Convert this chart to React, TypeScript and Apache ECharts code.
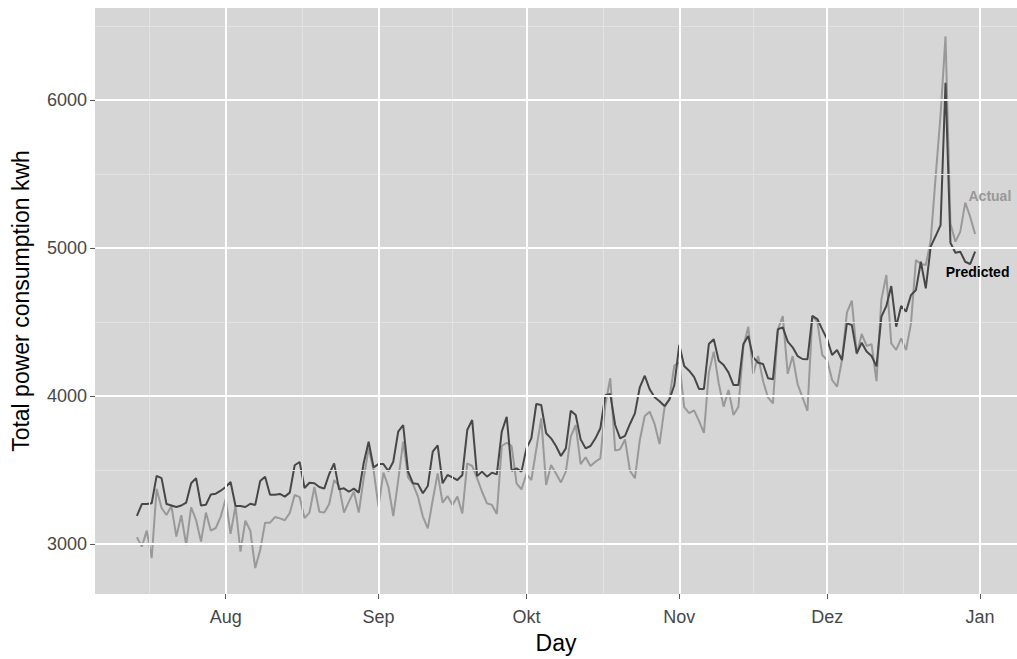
import React, { useEffect, useRef } from "react";
import * as echarts from "echarts";

// Daily series start (one value per day)
const START_YEAR = 2015;
const START_MONTH = 6; // July (0-based)
const START_DAY = 14;

const actual = [
  3045, 2982, 3090, 2905, 3372, 3243, 3196, 3257, 3050, 3194,
  2993, 3248, 3162, 3016, 3212, 3090, 3108, 3185, 3304, 3068,
  3257, 2948, 3157, 3090, 2837, 2959, 3144, 3144, 3182, 3173,
  3160, 3209, 3331, 3317, 3175, 3212, 3385, 3218, 3212, 3270,
  3432, 3392, 3212, 3286, 3353, 3212, 3444, 3646, 3500, 3252,
  3482, 3387, 3189, 3432, 3691, 3450, 3405, 3320, 3185, 3106,
  3297, 3477, 3279, 3324, 3264, 3320, 3207, 3545, 3527, 3444,
  3353, 3275, 3264, 3203, 3662, 3684, 3662, 3410, 3369, 3473,
  3432, 3640, 3849, 3399, 3534, 3477, 3416, 3489, 3725, 3804,
  3540, 3586, 3527, 3556, 3579, 3939, 4120, 3631, 3640, 3707,
  3495, 3444, 3703, 3865, 3894, 3811, 3675, 3920, 3984, 4206,
  4228, 3925, 3885, 3903, 3832, 3750, 4158, 4300, 4086, 3928,
  4041, 3872, 3928, 4333, 4468, 4150, 4270, 4100, 3990, 3950,
  4450, 4540, 4150, 4270, 4080, 3990, 3900, 4540, 4502, 4277,
  4243, 4108, 4063, 4243, 4564, 4644, 4282, 4419, 4338, 4351,
  4100, 4653, 4818, 4356, 4311, 4390, 4311, 4491, 4919, 4892,
  4885, 5050, 5482, 5900, 6430, 5166, 5043, 5111, 5307, 5212,
  5095,
];

const predicted = [
  3190, 3270, 3270, 3275, 3460, 3445, 3270, 3260, 3250, 3260,
  3280, 3410, 3445, 3260, 3265, 3335, 3340, 3360, 3385, 3419,
  3257, 3257, 3250, 3272, 3264, 3425, 3455, 3333, 3333, 3338,
  3320, 3347, 3532, 3554, 3378, 3414, 3410, 3385, 3374, 3473,
  3545, 3369, 3376, 3353, 3374, 3347, 3547, 3691, 3518, 3540,
  3540, 3493, 3556, 3759, 3804, 3489, 3410, 3405, 3343, 3392,
  3624, 3667, 3410, 3466, 3450, 3432, 3466, 3770, 3838, 3459,
  3489, 3455, 3482, 3470, 3759, 3860, 3495, 3511, 3489, 3646,
  3714, 3946, 3939, 3748, 3714, 3662, 3595, 3646, 3901, 3872,
  3707, 3646, 3662, 3714, 3782, 4005, 4014, 3804, 3714, 3730,
  3811, 3883, 4059, 4137, 4045, 3991, 3965, 3932, 3975, 4074,
  4345, 4203, 4171, 4130, 4048, 4048, 4351, 4383, 4239, 4209,
  4158, 4074, 4074, 4351, 4405, 4261, 4225, 4216, 4120, 4113,
  4451, 4464, 4367, 4329, 4270, 4250, 4248, 4541, 4520, 4450,
  4383, 4277, 4311, 4243, 4491, 4480, 4288, 4360, 4300, 4270,
  4200, 4536, 4608, 4743, 4468, 4608, 4570, 4682, 4716, 4907,
  4727, 5009, 5081, 5155, 6117, 5036, 4968, 4975, 4907, 4892,
  4975,
];

const monthNames = ["Jan", "Feb", "Mär", "Apr", "Mai", "Jun", "Jul", "Aug", "Sep", "Okt", "Nov", "Dez"];
const xTickDates = [
  [2015, 7, 1], [2015, 8, 1], [2015, 9, 1], [2015, 10, 1], [2015, 11, 1], [2016, 0, 1],
];
const xMinorDates = [
  [2015, 6, 16, 12], [2015, 7, 16, 12], [2015, 8, 16, 0], [2015, 9, 16, 12], [2015, 10, 16, 0], [2015, 11, 16, 12],
];
const yTicks = [3000, 4000, 5000, 6000];
const yMinor = [3500, 4500, 5500, 6500];

const FONT = "Liberation Sans, Arial, Helvetica, sans-serif";
const DAY_MS = 86400000;
const toDay = (y: number, m: number, d: number, h = 0) => Date.UTC(y, m, d, h) / DAY_MS;

export default function App() {
  const ref = useRef<HTMLDivElement>(null);

  useEffect(() => {
    if (!ref.current) return;
    const chart = echarts.init(ref.current, null, { renderer: "svg" });

    const d0 = toDay(START_YEAR, START_MONTH, START_DAY);
    const days = actual.map((_, i) => d0 + i);
    const xTicks = xTickDates.map((d) => toDay(d[0], d[1], d[2]));
    const xMinor = xMinorDates.map((d) => toDay(d[0], d[1], d[2], d[3]));

    const option = {
      animation: false,
      backgroundColor: "#ffffff",
      grid: {
        left: 95,
        right: -1,
        top: 8,
        bottom: 65,
        show: true,
        backgroundColor: "#d6d6d6",
        borderWidth: 0,
      },
      xAxis: {
        type: "value",
        min: toDay(2015, 6, 5, 12),
        max: toDay(2016, 0, 8, 12),
        name: "Day",
        nameLocation: "middle",
        nameGap: 37,
        nameTextStyle: { fontFamily: FONT, fontSize: 23, color: "#000000" },
        axisLine: { show: false },
        axisTick: {
          show: true,
          length: 5,
          customValues: xTicks,
          lineStyle: { color: "#555555", width: 1 },
        },
        axisLabel: {
          customValues: xTicks,
          margin: 14,
          fontFamily: FONT,
          fontSize: 18,
          color: "#474747",
          formatter: (v: number) => monthNames[new Date(Math.round(v) * DAY_MS).getUTCMonth()],
        },
        splitLine: { show: false },
      },
      yAxis: {
        type: "value",
        min: 2662,
        max: 6622,
        name: "Total power consumption kwh",
        nameLocation: "middle",
        nameGap: 63,
        nameRotate: 90,
        nameTextStyle: { fontFamily: FONT, fontSize: 23, color: "#000000" },
        axisLine: { show: false },
        axisTick: {
          show: true,
          length: 5,
          customValues: yTicks,
          lineStyle: { color: "#555555", width: 1 },
        },
        axisLabel: {
          customValues: yTicks,
          margin: 8,
          fontFamily: FONT,
          fontSize: 18,
          color: "#474747",
          formatter: (v: number) => String(Math.round(v)),
        },
        splitLine: { show: false },
      },
      series: [
        {
          name: "minorGrid",
          type: "line",
          data: [],
          z: 1,
          silent: true,
          markLine: {
            silent: true,
            symbol: "none",
            animation: false,
            label: { show: false },
            lineStyle: { color: "#e3e3e3", width: 1, type: "solid" },
            emphasis: { disabled: true },
            data: [
              ...yMinor.map((v) => ({ yAxis: v })),
              ...xMinor.map((v) => ({ xAxis: v })),
            ],
          },
        },
        {
          name: "majorGrid",
          type: "line",
          data: [],
          z: 1,
          silent: true,
          markLine: {
            silent: true,
            symbol: "none",
            animation: false,
            label: { show: false },
            lineStyle: { color: "#ffffff", width: 2, type: "solid" },
            emphasis: { disabled: true },
            data: [
              ...yTicks.map((v) => ({ yAxis: v })),
              ...xTicks.map((v) => ({ xAxis: v })),
            ],
          },
        },
        {
          name: "Actual",
          type: "line",
          z: 3,
          showSymbol: false,
          data: days.map((d, i) => [d, actual[i]]),
          lineStyle: { color: "#999999", width: 2 },
          itemStyle: { color: "#999999" },
          markPoint: {
            symbol: "circle",
            symbolSize: 0,
            animation: false,
            data: [{ coord: [toDay(2016, 0, 3), 5350] }],
            label: {
              show: true,
              position: "inside",
              formatter: "Actual",
              fontFamily: FONT,
              fontSize: 14,
              fontWeight: "bold",
              color: "#999999",
            },
          },
        },
        {
          name: "Predicted",
          type: "line",
          z: 4,
          showSymbol: false,
          data: days.map((d, i) => [d, predicted[i]]),
          lineStyle: { color: "#474747", width: 2 },
          itemStyle: { color: "#474747" },
          markPoint: {
            symbol: "circle",
            symbolSize: 0,
            animation: false,
            data: [{ coord: [toDay(2015, 11, 31, 12), 4838] }],
            label: {
              show: true,
              position: "inside",
              formatter: "Predicted",
              fontFamily: FONT,
              fontSize: 14,
              fontWeight: "bold",
              color: "#000000",
            },
          },
        },
      ],
    };

    chart.setOption(option as any);
    return () => chart.dispose();
  }, []);

  return (
    <div
      ref={ref}
      style={{ position: "absolute", left: 0, top: 0, width: 1017, height: 659 }}
    />
  );
}
